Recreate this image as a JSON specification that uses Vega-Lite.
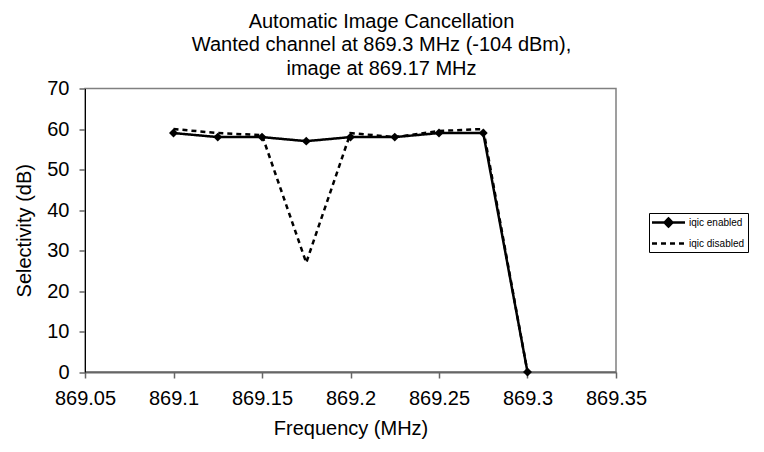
{
  "$schema": "https://vega.github.io/schema/vega-lite/v6.json",
  "autosize": "none",
  "width": 531,
  "height": 283.5,
  "padding": {"left": 85, "top": 88.5, "right": 148, "bottom": 80},
  "background": "white",
  "title": {
    "text": ["Automatic Image Cancellation", "Wanted channel at 869.3 MHz (-104 dBm),", "image at 869.17 MHz"],
    "anchor": "middle",
    "frame": "group",
    "dx": 31,
    "offset": 0,
    "font": "Liberation Sans",
    "fontSize": 20,
    "fontWeight": "normal",
    "lineHeight": 23.5,
    "color": "black"
  },
  "data": {
    "values": [
      {"freq": 869.1, "sel": 59, "series": "iqic enabled"},
      {"freq": 869.125, "sel": 58, "series": "iqic enabled"},
      {"freq": 869.15, "sel": 58, "series": "iqic enabled"},
      {"freq": 869.175, "sel": 57, "series": "iqic enabled"},
      {"freq": 869.2, "sel": 58, "series": "iqic enabled"},
      {"freq": 869.225, "sel": 58, "series": "iqic enabled"},
      {"freq": 869.25, "sel": 59, "series": "iqic enabled"},
      {"freq": 869.275, "sel": 59, "series": "iqic enabled"},
      {"freq": 869.3, "sel": 0, "series": "iqic enabled"},
      {"freq": 869.1, "sel": 60, "series": "iqic disabled"},
      {"freq": 869.125, "sel": 59, "series": "iqic disabled"},
      {"freq": 869.15, "sel": 58.5, "series": "iqic disabled"},
      {"freq": 869.175, "sel": 27, "series": "iqic disabled"},
      {"freq": 869.2, "sel": 59, "series": "iqic disabled"},
      {"freq": 869.225, "sel": 58, "series": "iqic disabled"},
      {"freq": 869.25, "sel": 59.5, "series": "iqic disabled"},
      {"freq": 869.275, "sel": 60, "series": "iqic disabled"},
      {"freq": 869.3, "sel": 0, "series": "iqic disabled"}
    ]
  },
  "encoding": {
    "x": {
      "field": "freq", "type": "quantitative",
      "scale": {"domain": [869.05, 869.35], "nice": false, "zero": false},
      "axis": {
        "title": "Frequency (MHz)",
        "values": [869.05, 869.1, 869.15, 869.2, 869.25, 869.3, 869.35],
        "format": ".2~f",
        "grid": false,
        "domainColor": "#666666", "domainWidth": 2,
        "tickColor": "#666666", "tickWidth": 1.5, "tickSize": 6,
        "labelFont": "Liberation Sans", "labelFontSize": 20, "labelColor": "black", "labelPadding": 10,
        "labelFlush": false, "labelOverlap": false,
        "titleFont": "Liberation Sans", "titleFontSize": 20, "titleFontWeight": "normal", "titleColor": "black", "titlePadding": 10
      }
    },
    "y": {
      "field": "sel", "type": "quantitative",
      "scale": {"domain": [0, 70], "nice": false},
      "axis": {
        "title": "Selectivity (dB)",
        "values": [0, 10, 20, 30, 40, 50, 60, 70],
        "grid": false,
        "domainColor": "black", "domainWidth": 1,
        "tickColor": "#666666", "tickWidth": 1.5, "tickSize": 6,
        "labelFont": "Liberation Sans", "labelFontSize": 20, "labelColor": "black", "labelPadding": 10,
        "labelFlush": false, "labelOverlap": false,
        "titleFont": "Liberation Sans", "titleFontSize": 20, "titleFontWeight": "normal", "titleColor": "black", "titlePadding": 12
      }
    },
    "strokeDash": {
      "field": "series", "type": "nominal",
      "scale": {"domain": ["iqic enabled", "iqic disabled"], "range": [[1, 0], [5, 4]]},
      "legend": {
        "title": null,
        "orient": "none",
        "legendX": 564,
        "legendY": 124.5,
        "strokeColor": "black",
        "padding": 3,
        "symbolSize": 100,
        "symbolStrokeWidth": 2.5,
        "symbolStrokeColor": "black",
        "labelFont": "Liberation Sans",
        "labelFontSize": 10,
        "labelColor": "black",
        "labelOffset": 24,
        "rowPadding": 5,
        "encode": {
          "symbols": {
            "update": {
              "shape": {"signal": "datum.label === 'iqic enabled' ? 'M-1.3,0H5.3M2,-0.8L2.8,0L2,0.8L1.2,0Z' : 'M-1.3,0H5.3'"},
              "fill": {"signal": "datum.label === 'iqic enabled' ? 'black' : 'transparent'"},
              "stroke": {"value": "black"},
              "strokeWidth": {"value": 2.5},
              "strokeOpacity": {"value": 1},
              "opacity": {"value": 1},
              "strokeDash": {"signal": "datum.label === 'iqic enabled' ? [1,0] : [10,12]"}
            }
          }
        }
      }
    }
  },
  "layer": [
    {
      "transform": [{"filter": "datum.series === 'iqic disabled'"}],
      "mark": {"type": "line", "color": "black", "strokeWidth": 2.5}
    },
    {
      "transform": [{"filter": "datum.series === 'iqic enabled'"}],
      "mark": {"type": "line", "color": "black", "strokeWidth": 2.5}
    },
    {
      "transform": [{"filter": "datum.series === 'iqic enabled'"}],
      "mark": {"type": "point", "shape": "diamond", "filled": true, "color": "black", "size": 80, "opacity": 1},
      "encoding": {"strokeDash": null}
    }
  ],
  "config": {
    "view": {"stroke": "#808080", "strokeWidth": 1.5}
  }
}
